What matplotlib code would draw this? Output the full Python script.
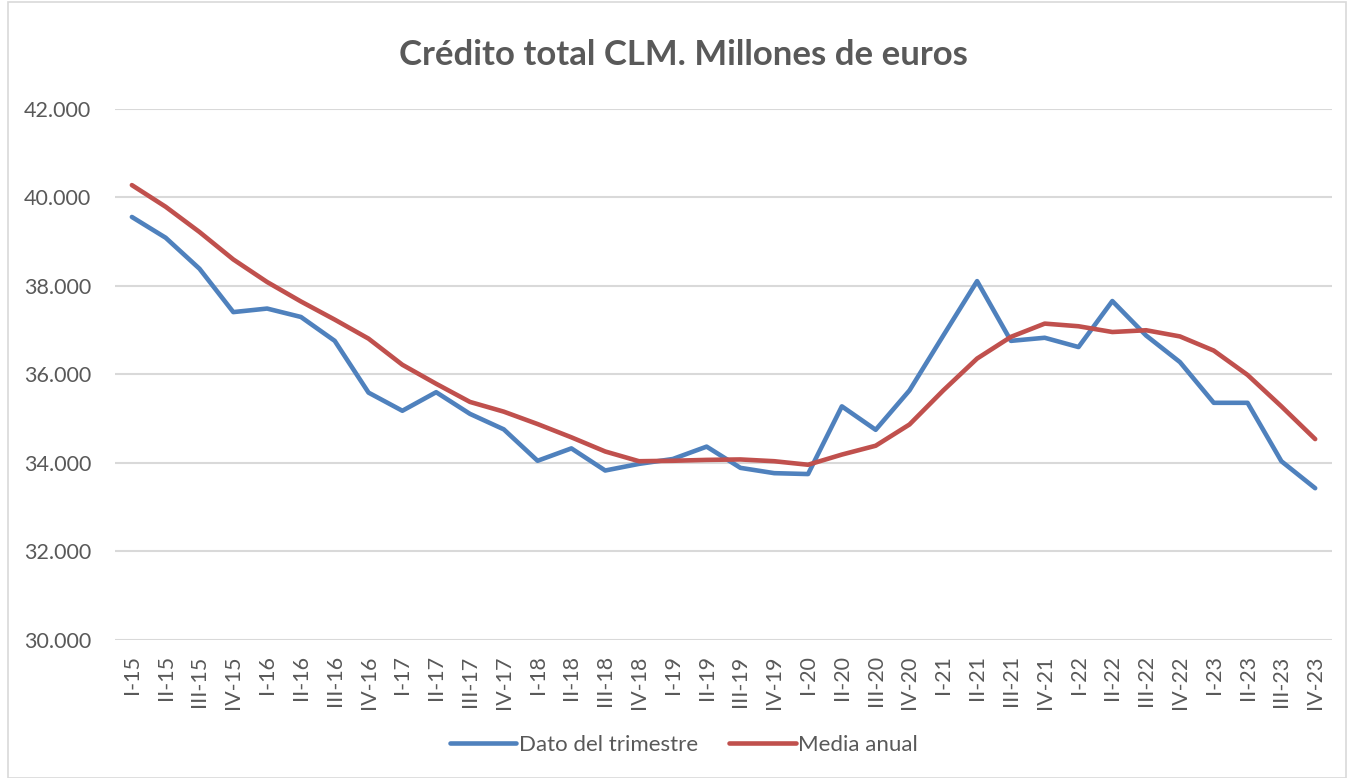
import numpy as np
import matplotlib
matplotlib.use('Agg')
import matplotlib.pyplot as plt
from matplotlib.patches import Rectangle
from matplotlib.ticker import FuncFormatter

plt.rcParams['font.family'] = ['Lato', 'DejaVu Sans']

# Datos (millones de euros)
trimestres = ['I-15', 'II-15', 'III-15', 'IV-15',
              'I-16', 'II-16', 'III-16', 'IV-16',
              'I-17', 'II-17', 'III-17', 'IV-17',
              'I-18', 'II-18', 'III-18', 'IV-18',
              'I-19', 'II-19', 'III-19', 'IV-19',
              'I-20', 'II-20', 'III-20', 'IV-20',
              'I-21', 'II-21', 'III-21', 'IV-21',
              'I-22', 'II-22', 'III-22', 'IV-22',
              'I-23', 'II-23', 'III-23', 'IV-23']

dato_trimestre = [39560, 39090, 38390, 37410, 37490, 37300, 36760, 35590,
                  35180, 35600, 35110, 34760, 34050, 34330, 33830, 33980,
                  34090, 34370, 33890, 33770, 33750, 35280, 34750, 35640,
                  36880, 38110, 36760, 36830, 36620, 37660, 36880, 36280,
                  35360, 35360, 34040, 33430]

media_anual = [40280, 39790, 39220, 38600, 38090, 37650, 37240, 36810,
               36220, 35790, 35380, 35160, 34880, 34580, 34260, 34040,
               34050, 34070, 34080, 34040, 33960, 34190, 34390, 34870,
               35640, 36360, 36850, 37150, 37090, 36960, 37000, 36860,
               36540, 35990, 35280, 34540]

gris = '#595959'
x = np.arange(len(trimestres))

fig = plt.figure(figsize=(13.51, 7.78), dpi=100)
ax = fig.add_axes([0.0851, 0.1774, 0.9009, 0.6825])

ax.plot(x, dato_trimestre, color='#4f81bd', lw=3.3, label='Dato del trimestre',
        solid_capstyle='round', solid_joinstyle='round')
ax.plot(x, media_anual, color='#c0504d', lw=3.3, label='Media anual',
        solid_capstyle='round', solid_joinstyle='round')

ax.set_xlim(-0.5, len(trimestres) - 0.5)
ax.set_ylim(30000, 42000)
ax.set_yticks(np.arange(30000, 42001, 2000))
ax.yaxis.set_major_formatter(FuncFormatter(lambda v, p: f'{int(v):,}'.replace(',', '.')))
ax.set_xticks(x)
ax.set_xticklabels(trimestres, rotation=90)

ax.grid(axis='y', color='#d9d9d9', lw=1.5)
ax.set_axisbelow(True)
for s in ax.spines.values():
    s.set_visible(False)
ax.tick_params(axis='both', length=0, colors=gris, labelsize=15.5)
ax.tick_params(axis='y', pad=17)
ax.tick_params(axis='x', pad=11)

fig.text(0.506, 0.929, 'Crédito total CLM. Millones de euros', ha='center', va='center',
         fontsize=25, fontweight='bold', color=gris)

fig.legend(loc='center', bbox_to_anchor=(0.506, 0.043), ncol=2, frameon=False,
           fontsize=16, labelcolor=gris, handlelength=3.0, handletextpad=0.1,
           columnspacing=1.4)

# borde del gráfico
fig.patches.append(Rectangle((0.006, 0.0), 0.99, 0.998, transform=fig.transFigure,
                             fill=False, edgecolor='#d9d9d9', lw=1.2))

fig.savefig('out.png', dpi=100)
